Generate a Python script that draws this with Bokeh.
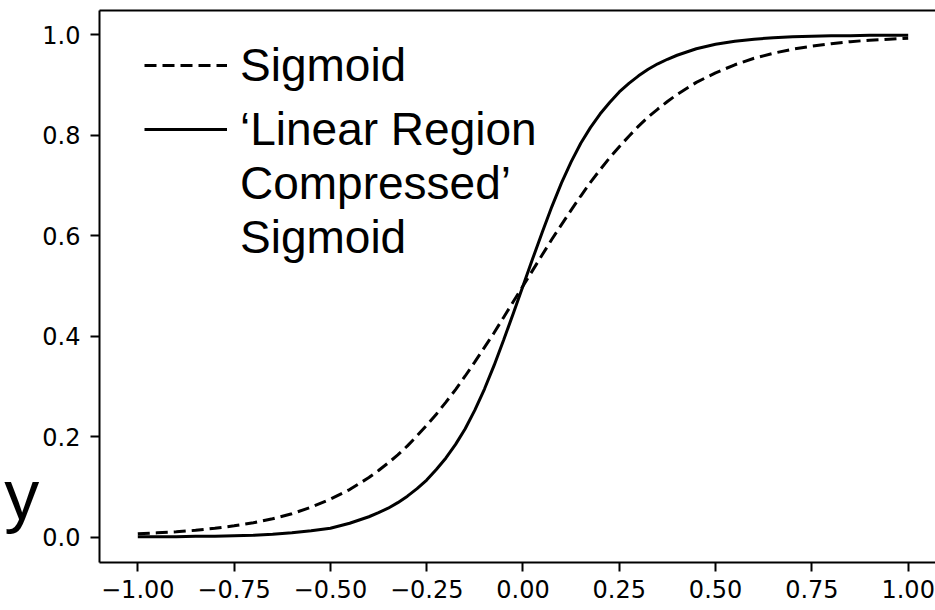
from bokeh.plotting import figure
from bokeh.models import (Legend, LegendItem, LinearAxis, FixedTicker,
                          Range1d, ColumnDataSource)
from bokeh.embed import file_html
from bokeh.resources import INLINE

# ---- data ----
x_vals = [-1.00, -0.95, -0.90, -0.85, -0.80, -0.75, -0.70, -0.65, -0.60, -0.55,
          -0.50, -0.45,
          -0.400, -0.375, -0.350, -0.325, -0.300, -0.275, -0.250, -0.225, -0.200,
          -0.175, -0.150, -0.125, -0.100, -0.075, -0.050, -0.025, 0.000,
          0.025, 0.050, 0.075, 0.100, 0.125, 0.150, 0.175, 0.200, 0.225, 0.250,
          0.275, 0.300, 0.325, 0.350, 0.375, 0.400,
          0.45, 0.50, 0.55, 0.60, 0.65, 0.70, 0.75, 0.80, 0.85, 0.90, 0.95, 1.00]

sigmoid_vals = [0.007, 0.009, 0.011, 0.014, 0.018, 0.023, 0.029, 0.037, 0.047, 0.060,
                0.076, 0.095,
                0.119, 0.133, 0.148, 0.164, 0.182, 0.202, 0.223, 0.245, 0.269,
                0.294, 0.321, 0.349, 0.378, 0.407, 0.438, 0.469, 0.500,
                0.531, 0.562, 0.593, 0.622, 0.651, 0.679, 0.706, 0.731, 0.755, 0.777,
                0.798, 0.818, 0.836, 0.852, 0.867, 0.881,
                0.905, 0.924, 0.940, 0.953, 0.963, 0.971, 0.977, 0.982, 0.986, 0.989,
                0.991, 0.993]

compressed_vals = [0.001, 0.001, 0.001, 0.002, 0.002, 0.003, 0.004, 0.006, 0.009, 0.013,
                   0.018, 0.028,
                   0.041, 0.049, 0.058, 0.069, 0.082, 0.097, 0.114, 0.135, 0.158,
                   0.185, 0.216, 0.253, 0.295, 0.342, 0.393, 0.446, 0.500,
                   0.554, 0.607, 0.658, 0.705, 0.747, 0.784, 0.815, 0.842, 0.865, 0.886,
                   0.903, 0.918, 0.931, 0.942, 0.951, 0.959,
                   0.972, 0.981, 0.987, 0.991, 0.994, 0.996, 0.997, 0.998, 0.998, 0.999,
                   0.999, 0.999]

x_ticks = [-1.00, -0.75, -0.50, -0.25, 0.00, 0.25, 0.50, 0.75, 1.00]
x_tick_labels = ["\u22121.00", "\u22120.75", "\u22120.50", "\u22120.25", "0.00",
                 "0.25", "0.50", "0.75", "1.00"]
y_ticks = [0.0, 0.2, 0.4, 0.6, 0.8, 1.0]
y_tick_labels = ["0.0", "0.2", "0.4", "0.6", "0.8", "1.0"]

legend_sigmoid = "Sigmoid"
legend_compressed_lines = ["\u2018Linear Region", "Compressed\u2019", "Sigmoid"]
y_label_text = "y"

# ---- figure ----
p = figure(width=935, height=610, output_backend="svg", toolbar_location=None,
           x_range=Range1d(-1.0994, 1.0709), y_range=Range1d(-0.05, 1.048),
           min_border_left=99, min_border_right=0, min_border_top=10,
           min_border_bottom=48)
p.outline_line_color = None
p.grid.visible = False
p.background_fill_color = "white"
p.border_fill_color = "white"

src = ColumnDataSource(dict(x=x_vals, s=sigmoid_vals, c=compressed_vals))
r_sig = p.line("x", "s", source=src, line_color="black", line_width=3,
               line_dash="12 6")
r_comp = p.line("x", "c", source=src, line_color="black", line_width=3)
# invisible renderer used only for the extra legend text lines
r_blank = p.line(x=[], y=[], line_alpha=0)

for ax, ticks, labels in ((p.xaxis[0], x_ticks, x_tick_labels),
                          (p.yaxis[0], y_ticks, y_tick_labels)):
    ax.ticker = FixedTicker(ticks=ticks)
    ax.major_label_overrides = {t: l for t, l in zip(ticks, labels)}
    ax.axis_line_color = "black"
    ax.axis_line_width = 2
    ax.major_tick_line_color = "black"
    ax.major_tick_line_width = 2
    ax.major_tick_out = 9
    ax.major_tick_in = 0
    ax.minor_tick_line_color = None
    ax.major_label_text_font = "DejaVu Sans"
    ax.major_label_text_font_size = "24px"
    ax.major_label_text_color = "black"
p.xaxis[0].major_label_standoff = 8
p.yaxis[0].major_label_standoff = 10

# big horizontal "y" label near the lower end of the y axis
# (two trailing empty lines lift it above the axis' start)
yax = p.yaxis[0]
yax.axis_label = y_label_text + "\n\n"
yax.axis_label_orientation = "horizontal"
yax.axis_label_text_font = "Liberation Sans"
yax.axis_label_text_font_size = "70px"
yax.axis_label_text_font_style = "normal"
yax.axis_label_text_color = "black"
yax.axis_label_text_line_height = 0.86
yax.axis_label_standoff = 0
yax.axis_label_align = "start"

top_axis = LinearAxis(ticker=FixedTicker(ticks=[]), axis_line_color="black",
                      axis_line_width=2, major_tick_line_color=None,
                      minor_tick_line_color=None, major_tick_out=0,
                      major_tick_in=0, minor_tick_out=0,
                      major_label_text_font_size="0px", major_label_standoff=0)
p.add_layout(top_axis, "above")

legend_style = dict(glyph_width=83, glyph_height=52, label_height=52,
                    label_standoff=13, padding=0, margin=0, spacing=0,
                    border_line_color=None, background_fill_alpha=0,
                    label_text_font="Liberation Sans",
                    label_text_font_size="46px", label_text_color="black")

leg1 = Legend(items=[LegendItem(label=legend_sigmoid, renderers=[r_sig])],
              location=(45, 470), **legend_style)
leg2 = Legend(items=[LegendItem(label=legend_compressed_lines[0], renderers=[r_comp]),
                     LegendItem(label=legend_compressed_lines[1], renderers=[r_blank]),
                     LegendItem(label=legend_compressed_lines[2], renderers=[r_blank])],
              location=(45, 298), **legend_style)
p.add_layout(leg1)
p.add_layout(leg2)

open("out.html", "w").write(file_html(p, INLINE))
